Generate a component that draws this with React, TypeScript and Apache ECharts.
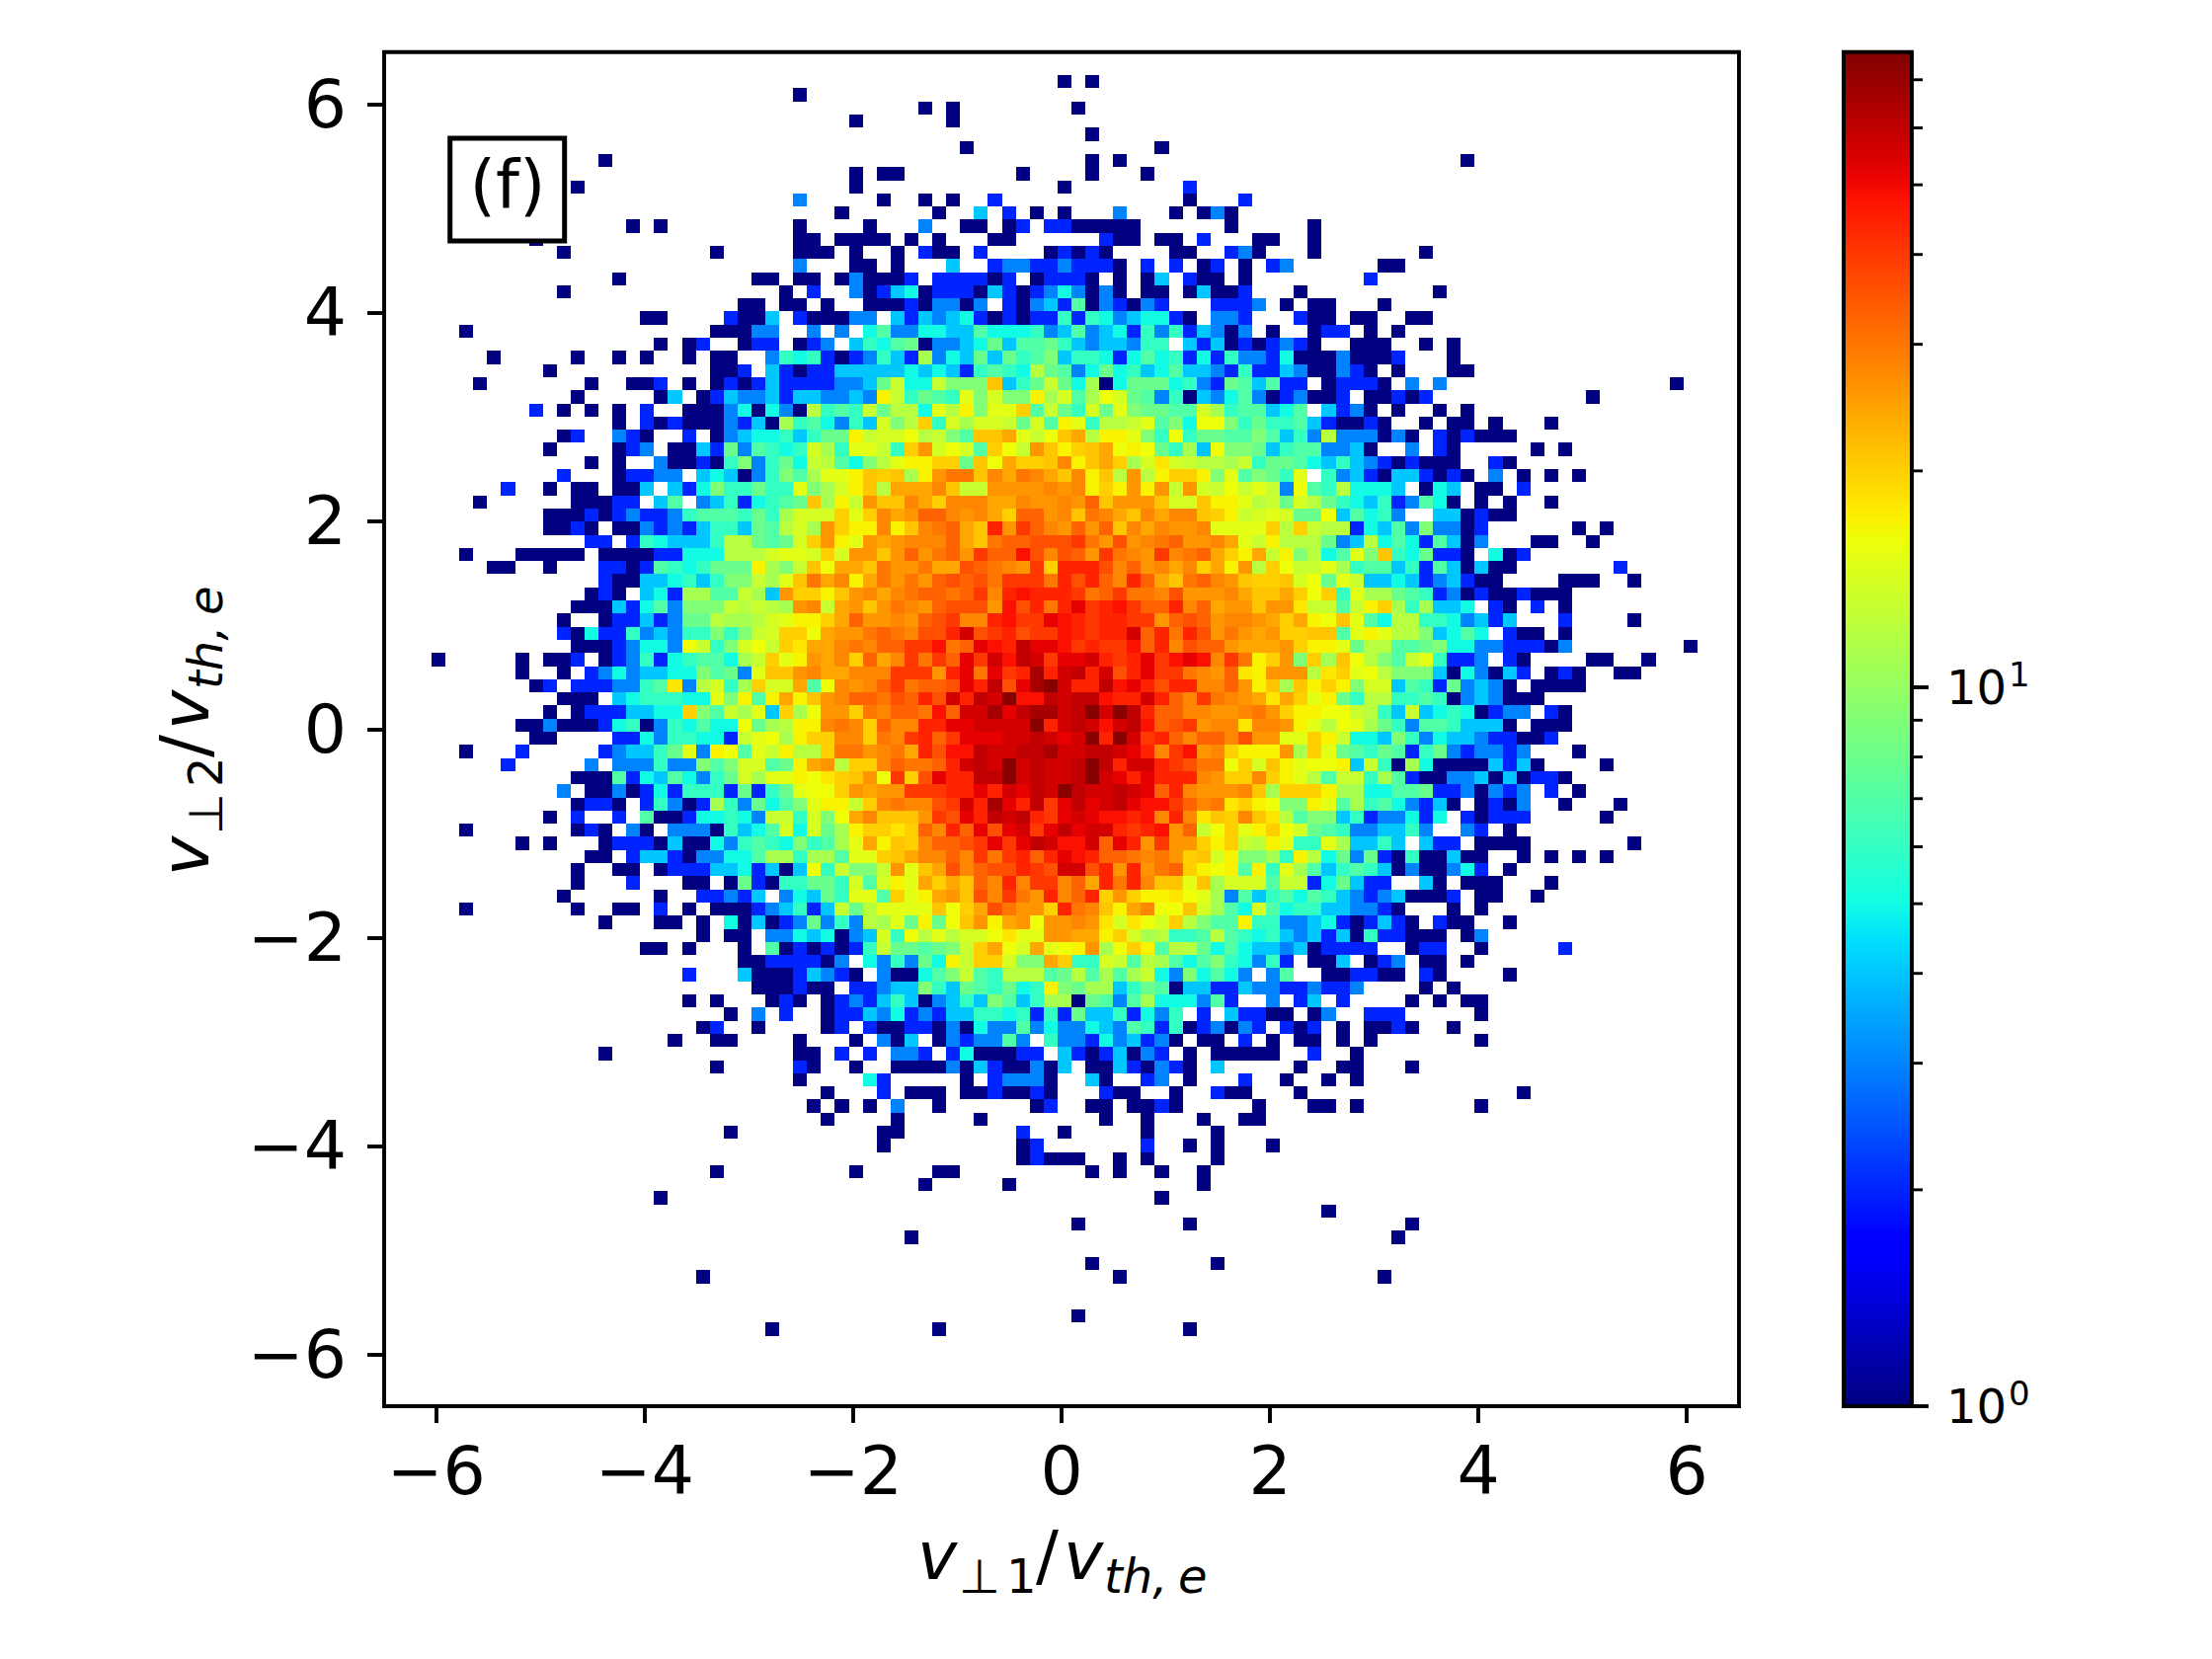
import { useEffect, useRef } from "react";
import * as echarts from "echarts";

// histogram bins: left edge of column 0, top edge of row 0
const xBinStart = -6.045;
const xBinWidth = 0.13346;
const yBinStart = 6.278;
const yBinHeight = 0.12607;

const xTicks = [-6, -4, -2, 0, 2, 4, 6];
const yTicks = [-6, -4, -2, 0, 2, 4, 6];
const colorMax = 76.5;
const colorDecades = [1, 10];
const colorMinorTicks = [2, 3, 4, 5, 6, 7, 8, 9, 20, 30, 40, 50, 60, 70];

// one character per cell: "." is an empty bin, the rest are counts
const countCodes: Record<string, number> = {
  "1": 1, "2": 2, "3": 3, "4": 4, "5": 5, "6": 6, "7": 7, "8": 8, "9": 9,
  a: 11, b: 12, c: 13, d: 14, e: 15, f: 16, g: 17, h: 18, i: 20, j: 21, k: 24, l: 26,
  m: 28, n: 30, o: 33, p: 36, q: 40, r: 44, s: 48, t: 52, u: 56, v: 60, w: 66, x: 74,
};

// [row, first column, codes]
type Run = [number, number, string];

const topRuns: Run[] = [
  [0, 45, "1.1"], [1, 26, "1"], [2, 35, "1.1"], [2, 46, "1"], [3, 30, "1"], [3, 37, "1"], [4, 47, "1"],
  [5, 38, "1"], [5, 52, "1"], [6, 12, "1"], [6, 47, "1.1"], [6, 74, "1"],
  [7, 30, "1.11"], [7, 42, "1"], [7, 47, "1"], [7, 51, "1"],
  [8, 10, "1"], [8, 30, "1"], [8, 45, "1"], [8, 54, "2"],
  [9, 26, "3"], [9, 32, "1"], [9, 35, "1.1"], [9, 40, "2"], [9, 54, "1"], [9, 58, "2"],
  [10, 29, "1"], [10, 36, "1"], [10, 39, "4.2.1.1"], [10, 49, "3"], [10, 53, "1.131"],
  [11, 14, "1.1"], [11, 26, "1"], [11, 31, "1"], [11, 35, "3"], [11, 38, "11.12.22"], [11, 46, "11111"], [11, 57, "1"], [11, 63, "1"],
  [12, 7, "1"], [12, 26, "11.1111.1.1"], [12, 40, "11"], [12, 48, "211"], [12, 52, "11.2"], [12, 59, "11"], [12, 63, "1"],
  [13, 9, "1"], [13, 20, "1"], [13, 26, "111.1..1.211.2"], [13, 44, "12"], [13, 46, "121"], [13, 53, "11"], [13, 57, "231"], [13, 63, "1"], [13, 71, "1"],
  [14, 26, "3"], [14, 30, "11.1"], [14, 37, "4"], [14, 40, "233223"], [14, 46, "2221"], [14, 51, "2.2.12"], [14, 58, "1.23"], [14, 68, "11"],
  [15, 13, "1"], [15, 23, "11.11.131112.222212.122"], [15, 46, "21.1.14.211.1"], [15, 67, "2"],
];

const upperRuns: Run[] = [
  [16, 9, "1"], [16, 25, "1.2..3124512221421235"], [16, 46, "3131.11.14112"], [16, 62, "1"], [16, 72, "1"],
  [17, 22, "11.11.1"], [17, 31, "111213313.21342"], [17, 46, "7132132"], [17, 56, "2223"], [17, 61, "1.11"], [17, 68, "1"],
  [18, 15, "11"], [18, 21, "2114.211133.4243452121226"], [18, 46, "265345521"], [18, 56, "332"], [18, 62, "211"], [18, 66, "11"], [18, 70, "11"],
  [19, 2, "1"], [19, 20, "11133..3.3.573355447555634"], [19, 46, "7345263624313"], [19, 60, "1"], [19, 63, "122"], [19, 67, "1"], [19, 69, "1"],
  [20, 16, "1.12"], [20, 22, "122.123.4657813345847786"], [20, 46, "4344366.4241212321"], [20, 66, "111"], [20, 71, "1"], [20, 73, "1"],
  [21, 4, "1"], [21, 10, "1"], [21, 13, "1"], [21, 15, "1"], [21, 18, "1.11"], [21, 24, "36562123642a3548486794"], [21, 46, "665257562526332511131112"], [21, 73, "1"],
  [22, 8, "1"], [22, 20, "112.4212244444545426765b87"], [22, 46, "3585645744326224311321"], [22, 69, "1"], [22, 73, "11"],
  [23, 3, "1"], [23, 11, "1"], [23, 14, "112"], [23, 18, "1.1212422223348c55c999j468c8"], [23, 46, "5a158885632874722.12221"], [23, 70, "3.3"], [23, 89, "1"],
  [24, 10, "1"], [24, 16, "14.1243342443343gc6876e9d99gad"], [24, 46, "7afd8736143573123112"], [24, 67, "11212"], [24, 83, "1"],
  [25, 7, "2.1.1.1.2"], [25, 18, "111351531b676c8bb5ebg9eei7c8"], [25, 46, "6d8e98877da677457.4231"], [25, 69, "1"], [25, 72, "1.1"],
  [26, 13, "1.2121113241a675364d9bi6daddc8d7g"], [26, 46, "e6bbce795ff968667421121"], [26, 71, "1.11"], [26, 76, "1"], [26, 80, "1"],
  [27, 9, "12"], [27, 13, "321"], [27, 18, "2.1345564688gcddfbc97jjkecfj"], [27, 46, "kbgge96f6887797463b333131"], [27, 72, "212111"],
  [28, 8, "1"], [28, 13, "123.1142837656da6eec6ildfd7ifcljg"], [28, 46, "ijkfgf86a4f99846773341"], [28, 70, "3.21"], [28, 79, "1.1"],
  [29, 11, "1.1..31121693685cb759beggii8jfkiijm"], [29, 46, "gjkiadhdcbbac688754643212111"], [29, 76, "21"],
  [30, 9, "2...12233.45413697aeegjijaglnnjmknmkj"], [30, 46, "mgjblbgiig9e7986e.63421442121"], [30, 76, "3.1.1.1"],
  [31, 5, "2..1.11.114.425966866e9adgjbkkkmjccllllml"], [31, 46, "mgiglglcldcfcec3f76b5554.154.11.2"],
  [32, 3, "1"], [32, 10, "11122.47.34625678jagcljjmkimmmkkmllm"], [32, 46, "lojllljddjggebc8db8654623751.1.1"], [32, 80, "1"],
  [33, 8, "11121232236777686adddieimkloomlmkioolm"], [33, 46, "jnmkjmkmmjigcded88f47563..441211"],
  [34, 8, "1121.113232466487bdaliggmgjmnokjrlqoml"], [34, 46, "olojmkmllmeeeeibicbb2547393312"], [34, 82, "1.1"],
  [35, 11, "22.2654446bb878dilgelklmmmokjnooppp"], [35, 46, "qnlplmnollmkecgbbb834b57527413"], [35, 79, "11"], [35, 83, "1"],
  [36, 2, "1"], [36, 6, "11111.111122555bbbdeedidlljlolnolqoospmp"], [36, 46, "olqnmlqmnokigkcg9b57e9j658221.512"],
  [37, 4, "11..1"], [37, 12, "22127656888ga9cjfkkjnllnkkponmlqir"], [37, 46, "rrpmolmkmikglbifccea677462741411"], [37, 85, "2"],
  [38, 12, "21144564699caejnkmgknlnlopopnqqqnr"], [38, 46, "promrokjnomljiijdf8ec4454234211"], [38, 81, "111"], [38, 86, "1"],
  [39, 11, "121.452aa77ca4liigjlmkmnoonoqmrsrrr"], [39, 46, "qnoqnnmplllmkjjkifi6eaa8762312112111"],
  [40, 10, "11142573999cbcbalmckljlnmlopppl" + "sprnr"], [40, 46, "tqrsqoormoklljllhcc7cgia6a445.21.2.1"],
  [41, 9, "1"], [41, 12, "12242388baabdeggikollmlopqmmrsqqts"], [41, 46, "rqrrqqlopolmmlkikgfje75bb6653424"], [41, 81, "2"], [41, 86, "1"],
  [42, 9, "21522634366969cdiifkllnonmpprupqrpqqs"], [42, 46, "rqrruornrplnlkliijj7egebb94575.211.1"],
  [43, 10, "11123553fc69dfcihkkmnmooqqsnotsrvtts"], [43, 46, "qrqqsormpoolkkkligge8bb7789553322213"], [43, 90, "1"],
  [44, 0, "1"], [44, 6, "1.112.1236256775acieglkmiokmqnqotqusvuqt"], [44, 46, "turqrtqstsmqngil9iajfb97ce6223.21"], [44, 83, "11"], [44, 87, "1"],
  [45, 6, "1..1.235344559783ejjlmkkmmmqqqlrtntqrwru"], [45, 46, "vruprtqqnmlohglllbhiefb9994153142.121"], [45, 85, "11"],
  [46, 7, "12.2223367h3bd6aiddk7fmlmoqnooptrvptwxu"], [46, 46, "rrvstrprrmmolgjajgig9dd476283431.1111"],
  [47, 9, "111.4566655e9g7gkgjlmoonporpurvuxssvu"], [47, 46, "vvsrruromqnmlkhkieg86bb66761343111"],
];

const lowerRuns: Run[] = [
  [48, 8, "1.12224455i97cae4iafllinmoonsouuwtvwwu"], [48, 46, "vxuxvroommllmnliggffcb64c45651233.21"],
  [49, 6, "1131112561365755f8abggmnmiommrrttuuuuxru"], [49, 46, "vusuvsopqlmmhmmlgebfea8637764441.111"],
  [50, 7, "11"], [50, 13, "225366552cefagiimminmqroqtttuuvut"], [50, 46, "uxrxuqromoomplleeigc554963544322112"],
  [51, 2, "1"], [51, 6, "2"], [51, 12, "234468e3gf7ecgbbinnlmnkrpssvuuvvwu"], [51, 46, "uvvutrmqslmigggl" + "aie87687268323323"], [51, 82, "1"],
  [52, 5, "2"], [52, 11, "3.333633979dd78gklbiimonnoruvuxuvuu"], [52, 46, "vxvruurqpnnfidjgeffg4c61a511114241"], [52, 84, "1"],
  [53, 10, "111725475368daeegfhijlfqiptrrvvxuvuu"], [53, 46, "vxutrtrrrmliimigeb7cc6a7211334141221"],
  [54, 9, "3.113125266628268effilkllqqqrrtrutvux"], [54, 46, "vuuvutormlllmjaiiigaa557782231323.2.1"],
  [55, 10, "1221.26312a638579eggcimnmmpqurwtrvqt"], [55, 46, "vtuvtssqomnhigf99ge7a6753241.1213"], [55, 81, "1"], [55, 85, "1"],
  [56, 8, "1.2..2.711255653cc6d9fkmjjjlqptrvuvrqt"], [56, 46, "utssrsmrmhjimjhb79946233525.21222"], [56, 84, "1"],
  [57, 2, "1"], [57, 10, "121.31.33316457d5d8agiihiomrotptuqtv"], [57, 46, "tuurqrslocfiegifd876334463..32.1"],
  [58, 6, "1.1...12221411536765967aekgjimoopqtqtvus"], [58, 46, "suotrlqlligicbge66ea4464.422.1111"], [58, 86, "1"],
  [59, 11, "11.2442133557aa6aa7eeijkmmomqnqrort"], [59, 46, "sroonmnlijdg99a6gb583821611411"], [59, 78, "1.1.1.1"],
  [60, 10, "1..11.12224452414f6c99clejkpmopprqpu"], [60, 46, "uprlrlnoigfg7g6ea7467641311352.1"],
  [61, 10, "1...2"], [61, 18, "11.182166886d7dgekikjomrmqqm"], [61, 46, "okrnrmjjejaddd7cc258422..41.111"], [61, 80, "1"],
  [62, 9, "1"], [62, 16, "1"], [62, 19, "22324.35486ee7iegkljpmqnlrm"], [62, 46, "oriligghfea37467576432341112.11"], [62, 79, "1"],
  [63, 2, "1"], [63, 10, "1"], [63, 13, "11.2.1.111234624c8beeeejfikpnllir"], [63, 46, "nmjgkmffjda75d7566443321...1.1"],
  [64, 12, "1"], [64, 16, "11.1.5141238363bae8g8fjlgklfll"], [64, 46, "mlhdhfdib977g663345212421.211"], [64, 77, "1"],
  [65, 19, "1.11.33545134d6fbebddfheell"], [65, 46, "kkgidab667b7656434241622111.13"],
  [66, 15, "11.1"], [66, 22, "1.71212126c88789cikfdkef"], [66, 46, "glafig7bb8575443412222..122..1"], [66, 81, "2"],
  [67, 22, "11222213.536385gciid99ki"], [67, 46, "66dc7ba757965362.114.123.11.1"],
  [68, 18, "2"], [68, 22, "411124321.311579c76bbb78"], [68, 46, "b7a7ac5395753.37..112211.21"], [68, 77, "1"],
  [69, 23, "111211.22344964876856g9"], [69, 46, "8aa468714422433223223"], [69, 71, "1.1"],
  [70, 18, "1.1"], [70, 24, "121.1232464134649746aa"], [70, 46, "18737a555372..3.24.2"], [70, 70, "1.1.11"],
  [71, 21, "1.3.2"], [71, 28, "122435232446656262"], [71, 46, "84462536.2.42211.13"], [71, 67, "222"], [71, 75, "1"],
  [72, 19, "12"], [72, 23, "1"], [72, 28, "12.2"], [72, 32, "11221315337353"], [72, 46, "35437626123132.212.1.1121"], [72, 73, "1"],
  [73, 17, "1"], [73, 20, "11"], [73, 26, "1"], [73, 30, "1.314.1323373.63"], [73, 46, "32534231.11.2.1.11.1.1"], [73, 75, "1"],
  [74, 12, "1"], [74, 26, "11.2.2.332.2511122.4"], [74, 46, "2124132.1.11111"], [74, 63, "2"], [74, 66, "1"],
  [75, 20, "1"], [75, 26, "21"], [75, 30, "1"], [75, 33, "1111314211314"], [75, 47, "11421321"], [75, 56, "4"], [75, 62, "1"], [75, 65, "11"], [75, 70, "1"],
];

const bottomRuns: Run[] = [
  [76, 26, "1"], [76, 31, "52"], [76, 38, "1.23331"], [76, 47, "41"], [76, 51, "23"], [76, 54, "1"], [76, 58, "2"], [76, 61, "1"], [76, 64, "1"], [76, 66, "1"],
  [77, 28, "1"], [77, 32, "2"], [77, 34, "111"], [77, 38, "1121121"], [77, 48, "211"], [77, 53, "1"], [77, 56, "211"], [77, 62, "1"], [77, 78, "1"],
  [78, 27, "1.1.1.3"], [78, 36, "1"], [78, 43, "12"], [78, 47, "11.1121"], [78, 59, "1"], [78, 63, "11"], [78, 66, "1"], [78, 75, "1"],
  [79, 28, "1"], [79, 33, "1"], [79, 39, "1"], [79, 48, "1"], [79, 51, "1"], [79, 55, "1"], [79, 58, "11"],
  [80, 21, "1"], [80, 32, "11"], [80, 42, "2"], [80, 45, "1"], [80, 51, "1"], [80, 56, "1"],
  [81, 32, "1"], [81, 42, "12"], [81, 51, "2"], [81, 54, "1"], [81, 56, "1"], [81, 60, "1"],
  [82, 42, "1211"], [82, 46, "1"], [82, 49, "1"], [82, 51, "1"], [82, 56, "1"],
  [83, 20, "1"], [83, 30, "1"], [83, 36, "11"], [83, 47, "1.1"], [83, 52, "1"], [83, 55, "1"],
  [84, 35, "1"], [84, 41, "1"], [84, 55, "1"], [85, 16, "1"], [85, 52, "1"], [86, 64, "1"],
  [87, 46, "1"], [87, 54, "1"], [87, 70, "1"], [88, 34, "1"], [88, 69, "1"],
  [90, 47, "1"], [90, 56, "1"], [91, 19, "1"], [91, 49, "1"], [91, 68, "1"],
  [94, 46, "1"], [95, 24, "1"], [95, 36, "1"], [95, 54, "1"],
];

const FONT = "DejaVu Sans";
const LW = 3.9;

// matplotlib's jet segments
const lerpSegments = (pts: number[][], t: number) => {
  for (let i = 1; i < pts.length; i++) {
    if (t <= pts[i][0]) {
      const [x0, y0] = pts[i - 1];
      const [x1, y1] = pts[i];
      return y0 + ((y1 - y0) * (t - x0)) / (x1 - x0);
    }
  }
  return pts[pts.length - 1][1];
};
const JET_R = [[0, 0], [0.35, 0], [0.66, 1], [0.89, 1], [1, 0.5]];
const JET_G = [[0, 0], [0.125, 0], [0.375, 1], [0.64, 1], [0.91, 0], [1, 0]];
const JET_B = [[0, 0.5], [0.11, 1], [0.34, 1], [0.65, 0], [1, 0]];
const jet = (t: number) => {
  const c = (pts: number[][]) => Math.round(255 * lerpSegments(pts, t));
  return `rgb(${c(JET_R)},${c(JET_G)},${c(JET_B)})`;
};
const countColor = (n: number) => jet(Math.log(n) / Math.log(colorMax));

const cellData: number[][] = [];
for (const [row, col, codes] of [...topRuns, ...upperRuns, ...lowerRuns, ...bottomRuns]) {
  [...codes].forEach((ch, i) => {
    if (ch === ".") return;
    cellData.push([xBinStart + (col + i) * xBinWidth, yBinStart - row * yBinHeight, countCodes[ch]]);
  });
}

// pieces of the mathtext labels: text, x along the baseline, drop below baseline, size, italic
const mathLabel = (digit: string) => [
  { t: "v", dx: 0, dy: 0, size: 68, it: true },
  { t: "⊥", dx: 42, dy: 11, size: 48, it: false },
  { t: digit, dx: 90, dy: 11, size: 48, it: false },
  { t: "/", dx: 120, dy: 0, size: 68, it: false },
  { t: "v", dx: 148, dy: 0, size: 68, it: true },
  { t: "th,", dx: 189, dy: 11, size: 48, it: true },
  { t: "e", dx: 264, dy: 11, size: 48, it: true },
];
const labelChildren = (digit: string) =>
  mathLabel(digit).map((p) => ({
    type: "text",
    x: p.dx,
    y: p.dy,
    style: {
      text: p.t,
      font: `${p.it ? "italic " : ""}${p.size}px "${FONT}"`,
      fill: "#000",
      textAlign: "left",
      textVerticalAlign: "bottom",
      verticalAlign: "bottom",
    },
  }));

export default function App() {
  const ref = useRef<HTMLDivElement>(null);

  useEffect(() => {
    if (!ref.current) return;
    const chart = echarts.init(ref.current, undefined, { renderer: "svg" });
    const tickStyle = { length: 17, lineStyle: { color: "#000", width: LW } };
    const labelStyle = {
      color: "#000",
      fontFamily: FONT,
      fontSize: 68,
      formatter: (v: number) => String(v).replace("-", "\u2212"),
    };

    chart.setOption({
      animation: false,
      backgroundColor: "#fff",
      grid: [
        { left: 389, top: 52.7, width: 1372, height: 1371.3, show: true, borderColor: "#000", borderWidth: LW, backgroundColor: "#fff" },
        { left: 1867, top: 52.7, width: 69, height: 1371.3 },
      ],
      xAxis: [
        {
          type: "value",
          min: -6.5,
          max: 6.5,
          axisLine: { show: false, onZero: false },
          axisTick: { ...tickStyle, customValues: xTicks },
          axisLabel: { ...labelStyle, margin: 31, customValues: xTicks },
          splitLine: { show: false },
        },
        { type: "value", gridIndex: 1, min: 0, max: 1, show: false },
      ],
      yAxis: [
        {
          type: "value",
          min: -6.5,
          max: 6.5,
          axisLine: { show: false, onZero: false },
          axisTick: { ...tickStyle, customValues: yTicks },
          axisLabel: { ...labelStyle, margin: 38, customValues: yTicks },
          splitLine: { show: false },
        },
        { type: "log", logBase: 10, gridIndex: 1, min: 1, max: colorMax, show: false },
      ],
      series: [
        {
          type: "custom",
          silent: true,
          clip: true,
          data: cellData,
          encode: { x: 0, y: 1 },
          renderItem: (_p: unknown, api: any) => {
            const xl = api.value(0);
            const yt = api.value(1);
            const [x0, y0] = api.coord([xl, yt]);
            const [x1, y1] = api.coord([xl + xBinWidth, yt - yBinHeight]);
            const left = Math.round(x0);
            const top = Math.round(y0);
            return {
              type: "rect",
              shape: { x: left, y: top, width: Math.round(x1) - left, height: Math.round(y1) - top },
              style: { fill: countColor(api.value(2)) },
            };
          },
        },
        {
          // colour bar body
          type: "custom",
          silent: true,
          xAxisIndex: 1,
          yAxisIndex: 1,
          data: [[0, colorMax]],
          encode: { x: 0, y: 1 },
          renderItem: (_p: unknown, api: any) => {
            const [x0, y0] = api.coord([0, colorMax]);
            const [x1, y1] = api.coord([1, 1]);
            const stops = [];
            for (let i = 0; i <= 64; i++) stops.push({ offset: i / 64, color: jet(1 - i / 64) });
            return {
              type: "rect",
              shape: { x: x0, y: y0, width: x1 - x0, height: y1 - y0 },
              style: {
                fill: new echarts.graphic.LinearGradient(0, 0, 0, 1, stops),
                stroke: "#000",
                lineWidth: LW,
              },
            };
          },
        },
        {
          // colour bar ticks and labels
          type: "custom",
          silent: true,
          xAxisIndex: 1,
          yAxisIndex: 1,
          data: [...colorDecades, ...colorMinorTicks].map((v) => [1, v]),
          encode: { x: 0, y: 1 },
          renderItem: (_p: unknown, api: any) => {
            const v = api.value(1);
            const major = colorDecades.includes(v);
            const [x, y] = api.coord([1, v]);
            const line = {
              type: "line",
              shape: { x1: x, y1: y, x2: x + (major ? 17 : 11), y2: y },
              style: { stroke: "#000", lineWidth: major ? LW : 2.9 },
            };
            if (!major) return line;
            return {
              type: "group",
              children: [
                line,
                {
                  type: "text",
                  x: x + 35,
                  y,
                  style: { text: "10", font: `48px "${FONT}"`, fill: "#000", textAlign: "left", verticalAlign: "middle", textVerticalAlign: "middle" },
                },
                {
                  type: "text",
                  x: x + 98,
                  y: y - 13,
                  style: { text: String(Math.round(Math.log10(v))), font: `34px "${FONT}"`, fill: "#000", textAlign: "left", verticalAlign: "middle", textVerticalAlign: "middle" },
                },
              ],
            };
          },
        },
      ],
      graphic: [
        {
          type: "rect",
          z: 50,
          shape: { x: 455.7, y: 140, width: 116, height: 104 },
          style: { fill: "#fff", stroke: "#000", lineWidth: 5 },
        },
        {
          type: "text",
          z: 51,
          x: 514,
          y: 187,
          style: { text: "(f)", font: `68px "${FONT}"`, fill: "#000", textAlign: "center", verticalAlign: "middle", textVerticalAlign: "middle" },
        },
        { type: "group", x: 929, y: 1609, children: labelChildren("1") },
        { type: "group", x: 221, y: 887, rotation: Math.PI / 2, children: labelChildren("2") },
      ],
    });

    return () => chart.dispose();
  }, []);

  return <div ref={ref} style={{ position: "absolute", left: 0, top: 0, width: 2240, height: 1680 }} />;
}
